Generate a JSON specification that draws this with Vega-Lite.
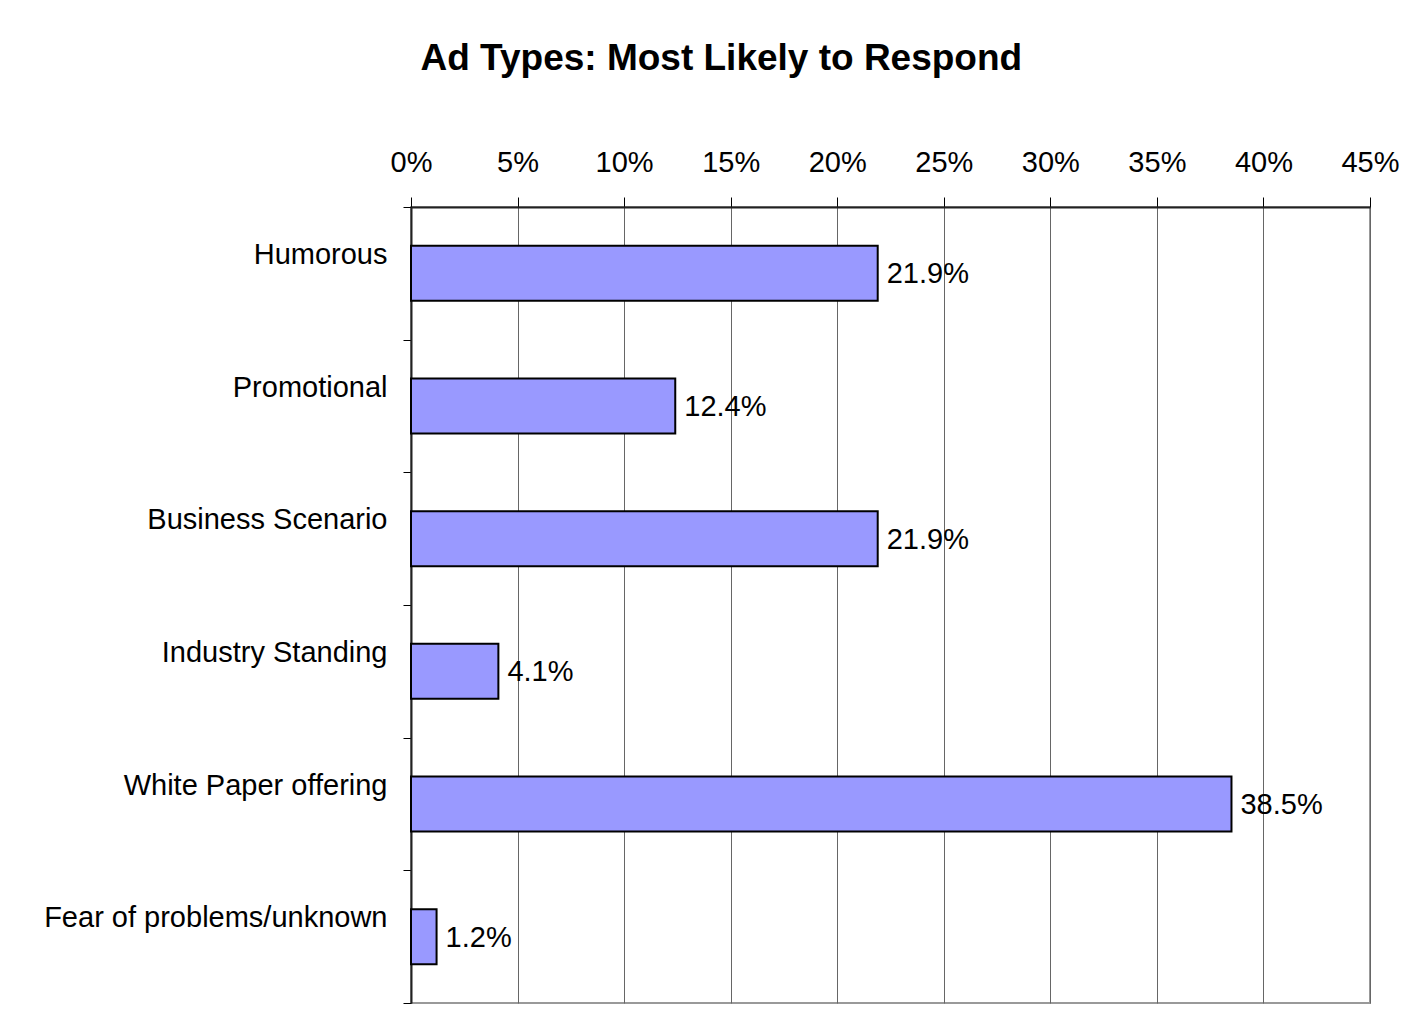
{
  "$schema": "https://vega.github.io/schema/vega-lite/v6.json",
  "autosize": {"type": "none"},
  "width": 959,
  "height": 796,
  "padding": {"left": 411, "top": 207, "right": 55, "bottom": 20},
  "background": "white",
  "title": {
    "text": "Ad Types: Most Likely to Respond",
    "font": "Liberation Sans",
    "fontSize": 37,
    "fontWeight": "bold",
    "color": "black",
    "anchor": "middle",
    "frame": "bounds",
    "baseline": "alphabetic",
    "offset": 41
  },
  "config": {
    "view": {"stroke": "#999999", "strokeWidth": 2},
    "axis": {"labelFont": "Liberation Sans", "labelFontSize": 29, "labelColor": "black", "labelLimit": 0}
  },
  "data": {
    "values": [
      {"type": "Humorous", "share": 0.219},
      {"type": "Promotional", "share": 0.124},
      {"type": "Business Scenario", "share": 0.219},
      {"type": "Industry Standing", "share": 0.041},
      {"type": "White Paper offering", "share": 0.385},
      {"type": "Fear of problems/unknown", "share": 0.012}
    ]
  },
  "encoding": {
    "y": {
      "field": "type",
      "type": "nominal",
      "sort": null,
      "scale": {"paddingInner": 0, "paddingOuter": 0},
      "axis": {
        "title": null,
        "orient": "left",
        "tickBand": "extent",
        "tickSize": 8,
        "tickColor": "black",
        "tickWidth": 1,
        "domainColor": "#222222",
        "domainWidth": 2,
        "labelPadding": 16,
        "labelOffset": -19,
        "labelBaseline": "middle",
        "labelLimit": 0,
        "grid": false
      }
    },
    "x": {
      "field": "share",
      "type": "quantitative",
      "scale": {"domain": [0, 0.45], "nice": false},
      "axis": {
        "title": null,
        "orient": "top",
        "values": [0, 0.05, 0.1, 0.15, 0.2, 0.25, 0.3, 0.35, 0.4, 0.45],
        "format": ".0%",
        "tickSize": 10,
        "tickColor": "black",
        "tickWidth": 1,
        "domainColor": "#222222",
        "domainWidth": 2,
        "labelPadding": 26,
        "labelBaseline": "alphabetic",
        "labelFlush": false,
        "grid": true,
        "gridColor": "#666666",
        "gridWidth": 1
      }
    }
  },
  "layer": [
    {
      "mark": {"type": "bar", "height": {"band": 0.415}, "fill": "#9999ff", "stroke": "black", "strokeWidth": 2}
    },
    {
      "mark": {"type": "text", "align": "left", "baseline": "middle", "dx": 9, "dy": 1, "font": "Liberation Sans", "fontSize": 29, "color": "black"},
      "encoding": {"text": {"field": "share", "type": "quantitative", "format": ".1%"}}
    }
  ]
}
